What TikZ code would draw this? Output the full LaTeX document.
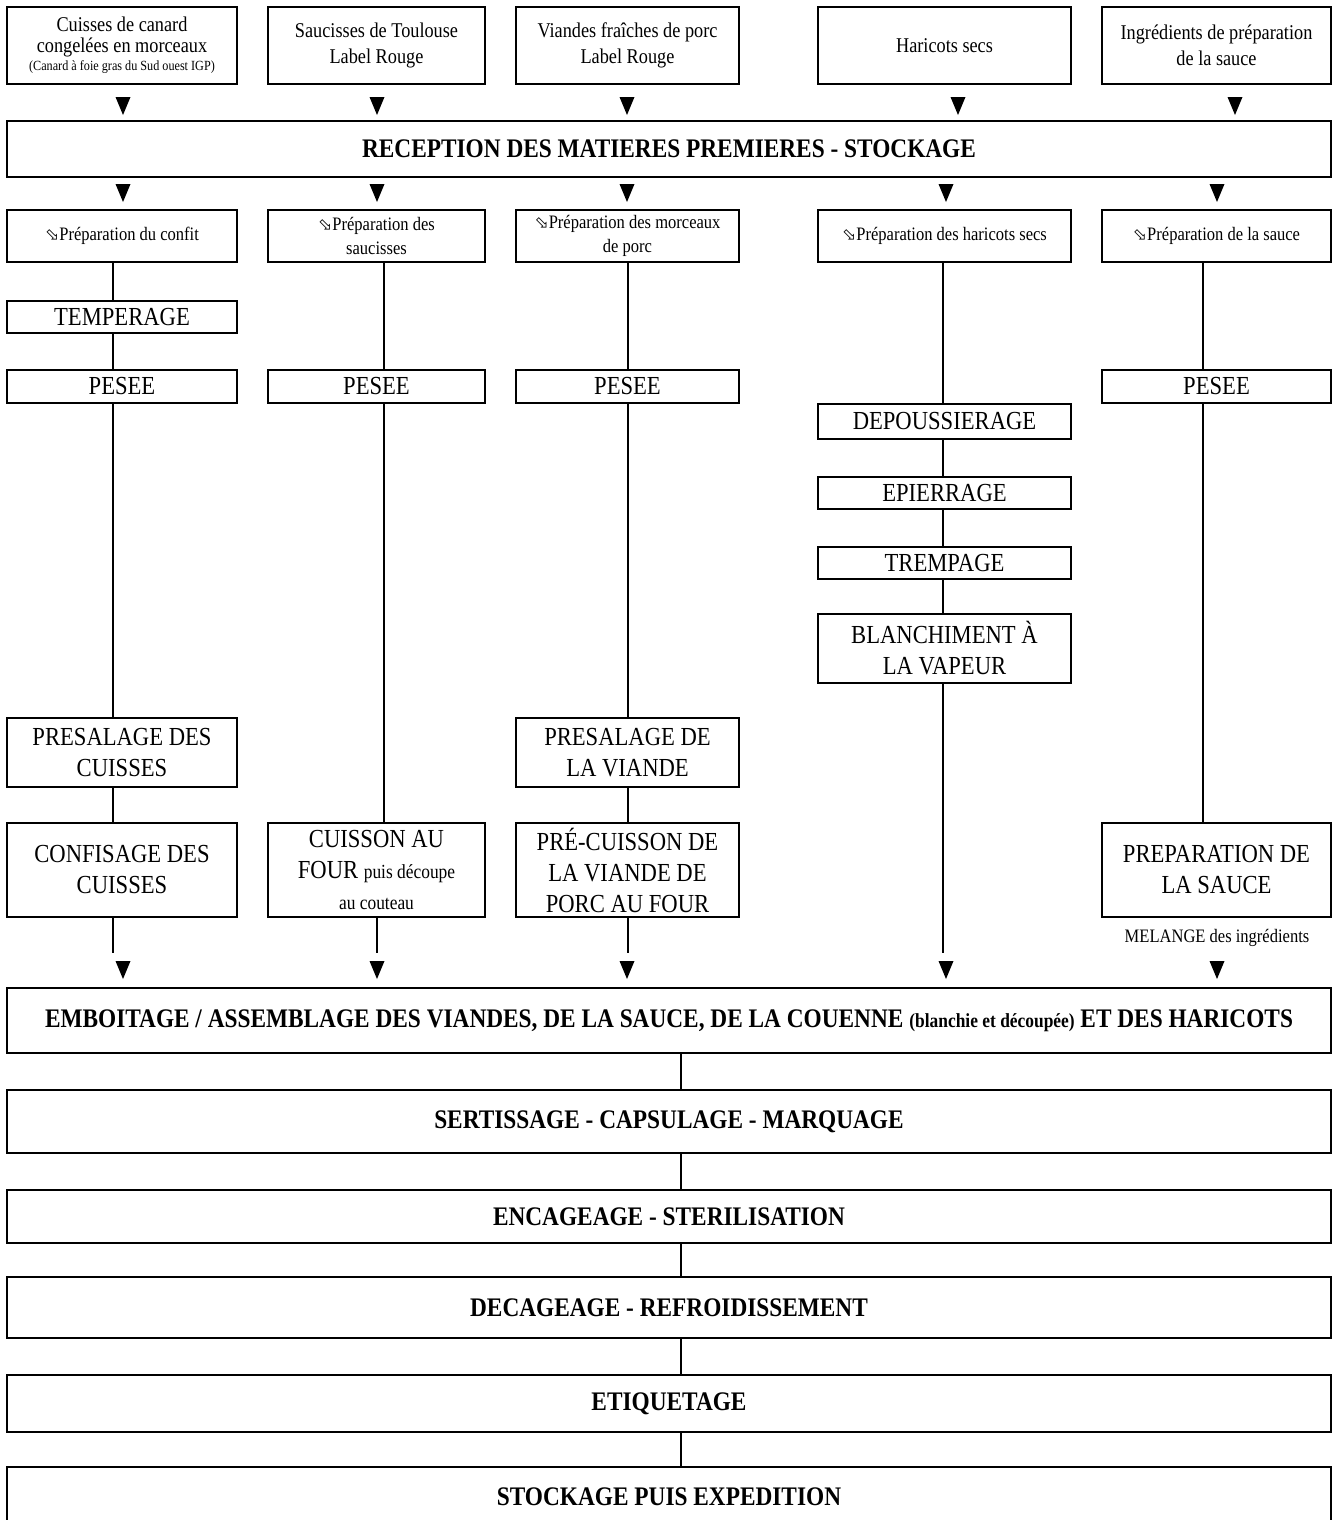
\documentclass[tikz,border=0pt]{standalone}
\usepackage{fontspec}
\setmainfont[FakeStretch=0.87]{Liberation Serif}
\newfontfamily\symf{DejaVu Sans}
\usetikzlibrary{calc}
\tikzset{
 topbox/.style={draw, line width=1.4pt, inner sep=0pt, align=center, font=\fontsize{21}{26.5}\selectfont},
 procbox/.style={draw, line width=2.6pt, inner sep=0pt, align=center, font=\fontsize{26}{31}\selectfont},
 prepbox/.style={draw, line width=2.6pt, inner sep=0pt, align=center, font=\fontsize{19}{24}\selectfont},
 bigbox/.style={draw, line width=2.6pt, inner sep=0pt, align=center, font=\bfseries\fontsize{26.8}{30}\selectfont},
 link/.style={line width=2.2pt},
 note/.style={inner sep=0pt, font=\fontsize{19}{22}\selectfont},
}
\newcommand\mybox[7]{\node[#1, minimum width={#4pt-#3pt}, minimum height={#6pt-#5pt}] (#2) at ({(#3+#4)/2},{(#5+#6)/2}) {#7};}
\newcommand\tri[1]{\fill ([shift={(-7.5,-9)}]#1) -- ([shift={(7.5,-9)}]#1) -- ([shift={(0,9)}]#1) -- cycle;}
\newcommand\prp{{\symf\fontsize{17}{17}\selectfont ⬂}}
\begin{document}
\begin{tikzpicture}[x=1pt,y=-1pt]
\useasboundingbox[fill=white] (0,0) rectangle (1336,1520);
% top row
\mybox{topbox}{t1}{7}{237}{7}{84}{Cuisses de canard\\[-6pt]congelées en morceaux\\[-8pt]{\fontsize{14}{15}\selectfont (Canard à foie gras du Sud ouest IGP)}}
\mybox{topbox}{t2}{268}{485}{7}{84}{Saucisses de Toulouse\\Label Rouge}
\mybox{topbox}{t3}{516}{739}{7}{84}{Viandes fraîches de porc\\Label Rouge}
\mybox{topbox}{t4}{818}{1071}{7}{84}{Haricots secs}
\mybox{topbox}{t5}{1102}{1331}{7}{84}{Ingrédients de préparation\\de la sauce}
% reception
\mybox{bigbox}{rec}{7}{1331}{121}{177}{RECEPTION DES MATIERES PREMIERES - STOCKAGE}
% preparation boxes
\mybox{prepbox}{p1}{7}{237}{210}{262}{\prp Préparation du confit}
\mybox{prepbox}{p2}{268}{485}{210}{262}{\prp Préparation des\\saucisses}
\mybox{prepbox}{p3}{516}{739}{210}{262}{\prp Préparation des morceaux\\de porc}
\mybox{prepbox}{p4}{818}{1071}{210}{262}{\prp Préparation des haricots secs}
\mybox{prepbox}{p5}{1102}{1331}{210}{262}{\prp Préparation de la sauce}
% column 1
\mybox{procbox}{temp1}{7}{237}{301}{333}{TEMPERAGE}
\mybox{procbox}{pes1}{7}{237}{370}{403}{PESEE}
\mybox{procbox}{pres1}{7}{237}{718}{787}{PRESALAGE DES\\CUISSES}
\mybox{procbox}{conf1}{7}{237}{823}{917}{CONFISAGE DES\\CUISSES}
% column 2
\mybox{procbox}{pes2}{268}{485}{370}{403}{PESEE}
\mybox{procbox}{cuis2}{268}{485}{823}{917}{CUISSON AU\\FOUR {\fontsize{20}{31}\selectfont puis découpe}\\{\fontsize{20}{26}\selectfont au couteau}}
% column 3
\mybox{procbox}{pes3}{516}{739}{370}{403}{PESEE}
\mybox{procbox}{pres3}{516}{739}{718}{787}{PRESALAGE DE\\LA VIANDE}
\mybox{procbox}{prec3}{516}{739}{823}{917}{PRÉ-CUISSON DE\\LA VIANDE DE\\PORC AU FOUR}
% column 4
\mybox{procbox}{dep4}{818}{1071}{404}{439}{DEPOUSSIERAGE}
\mybox{procbox}{epi4}{818}{1071}{477}{509}{EPIERRAGE}
\mybox{procbox}{tre4}{818}{1071}{547}{579}{TREMPAGE}
\mybox{procbox}{bla4}{818}{1071}{614}{683}{BLANCHIMENT À\\LA VAPEUR}
% column 5
\mybox{procbox}{pes5}{1102}{1331}{370}{403}{PESEE}
\mybox{procbox}{sau5}{1102}{1331}{823}{917}{PREPARATION DE\\LA SAUCE}
\node[note] (mel) at (1217,938) {MELANGE des ingrédients};
% bottom chain
\mybox{bigbox}{emb}{7}{1331}{988}{1053}{EMBOITAGE / ASSEMBLAGE DES VIANDES, DE LA SAUCE, DE LA COUENNE {\fontsize{20}{22}\selectfont (blanchie et découpée)} ET DES HARICOTS}
\mybox{bigbox}{ser}{7}{1331}{1090}{1153}{SERTISSAGE - CAPSULAGE - MARQUAGE}
\mybox{bigbox}{enc}{7}{1331}{1190}{1243}{ENCAGEAGE - STERILISATION}
\mybox{bigbox}{dec}{7}{1331}{1277}{1338}{DECAGEAGE - REFROIDISSEMENT}
\mybox{bigbox}{eti}{7}{1331}{1375}{1432}{ETIQUETAGE}
\mybox{bigbox}{sto}{7}{1331}{1467}{1527}{STOCKAGE PUIS EXPEDITION}
% free ends
\coordinate (e1) at (113,953);
\coordinate (e2) at (377,953);
\coordinate (e3) at (628,953);
\coordinate (e4) at (943,953);
% column connectors
\draw[link] ([xshift=-9pt]p1.south) -- ([xshift=-9pt]temp1.north);
\draw[link] ([xshift=-9pt]temp1.south) -- ([xshift=-9pt]pes1.north);
\draw[link] ([xshift=-9pt]pes1.south) -- ([xshift=-9pt]pres1.north);
\draw[link] ([xshift=-9pt]pres1.south) -- ([xshift=-9pt]conf1.north);
\draw[link] ([xshift=-9pt]conf1.south) -- (e1);
\draw[link] ([xshift=7.5pt]p2.south) -- ([xshift=7.5pt]pes2.north);
\draw[link] ([xshift=7.5pt]pes2.south) -- ([xshift=7.5pt]cuis2.north);
\draw[link] ([xshift=0.5pt]cuis2.south) -- (e2);
\draw[link] ([xshift=0.5pt]p3.south) -- ([xshift=0.5pt]pes3.north);
\draw[link] ([xshift=0.5pt]pes3.south) -- ([xshift=0.5pt]pres3.north);
\draw[link] ([xshift=0.5pt]pres3.south) -- ([xshift=0.5pt]prec3.north);
\draw[link] ([xshift=0.5pt]prec3.south) -- (e3);
\draw[link] ([xshift=-1.5pt]p4.south) -- ([xshift=-1.5pt]dep4.north);
\draw[link] ([xshift=-1.5pt]dep4.south) -- ([xshift=-1.5pt]epi4.north);
\draw[link] ([xshift=-1.5pt]epi4.south) -- ([xshift=-1.5pt]tre4.north);
\draw[link] ([xshift=-1.5pt]tre4.south) -- ([xshift=-1.5pt]bla4.north);
\draw[link] ([xshift=-1.5pt]bla4.south) -- (e4);
\draw[link] ([xshift=-13.5pt]p5.south) -- ([xshift=-13.5pt]pes5.north);
\draw[link] ([xshift=-13.5pt]pes5.south) -- ([xshift=-13.5pt]sau5.north);
% bottom connectors
\draw[link] ([xshift=12pt]emb.south) -- ([xshift=12pt]ser.north);
\draw[link] ([xshift=12pt]ser.south) -- ([xshift=12pt]enc.north);
\draw[link] ([xshift=12pt]enc.south) -- ([xshift=12pt]dec.north);
\draw[link] ([xshift=12pt]dec.south) -- ([xshift=12pt]eti.north);
\draw[link] ([xshift=12pt]eti.south) -- ([xshift=12pt]sto.north);
% arrowheads
\tri{123,106} \tri{377,106} \tri{627,106} \tri{958,106} \tri{1235,106}
\tri{123,193} \tri{377,193} \tri{627,193} \tri{946,193} \tri{1217,193}
\tri{123,970} \tri{377,970} \tri{627,970} \tri{946,970} \tri{1217,970}
\end{tikzpicture}
\end{document}
